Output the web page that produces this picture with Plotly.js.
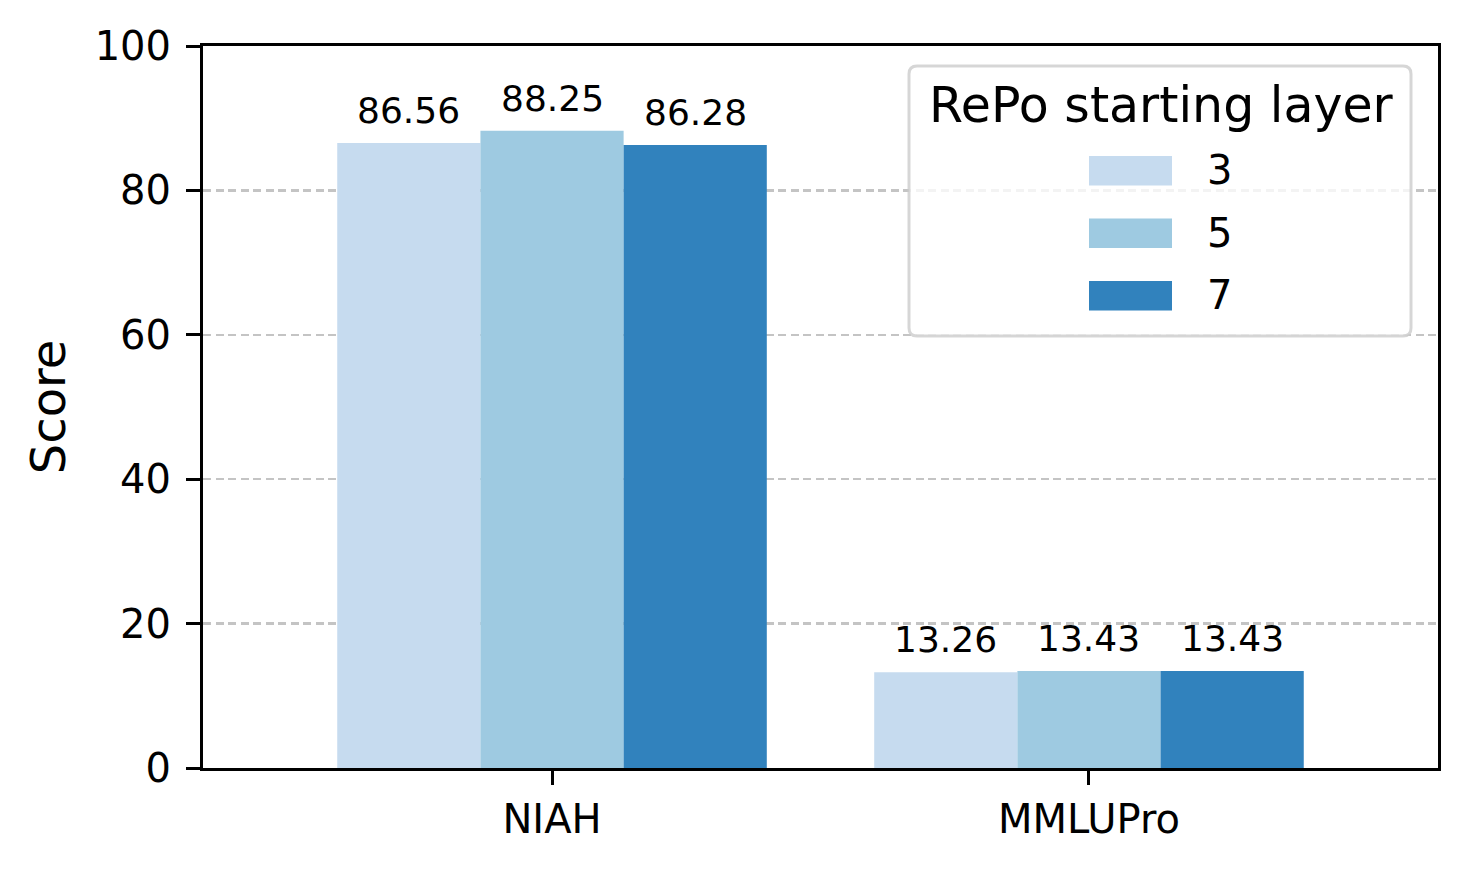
<!DOCTYPE html>
<html>
<head>
<meta charset="utf-8">
<script src="https://cdn.plot.ly/plotly-3.0.1.min.js"></script>
<style>
  html, body { margin: 0; padding: 0; background: #ffffff; }
  #chart { width: 1468px; height: 869px; }
</style>
</head>
<body>
<div id="chart"></div>
<script>
// ---- data ----
const categories = ["NIAH", "MMLUPro"];
const seriesNames = ["3", "5", "7"];
const series3 = [86.56, 13.26];
const series5 = [88.25, 13.43];
const series7 = [86.28, 13.43];
const seriesValues = [series3, series5, series7];
const seriesColors = ["#c6dbef", "#9ecae1", "#3182bd"];
const yTickVals = [0, 20, 40, 60, 80, 100];
const legendTitle = "RePo starting layer";
const yTitle = "Score";

// ---- layout geometry ----
const W = 1468, H = 869;
const M = { l: 203, r: 30, t: 46, b: 101 };
const plotW = W - M.l - M.r, plotH = H - M.t - M.b;
const px2x = p => (p - M.l) / plotW;
const px2y = p => (H - M.b - p) / plotH;

const FONT = "DejaVu Sans, Liberation Sans, sans-serif";
const nS = seriesValues.length;
const groupWidth = 0.8;
const barW = groupWidth / nS;
const catIdx = categories.map((c, i) => i);

const traces = seriesValues.map((vals, j) => ({
  type: "bar",
  name: seriesNames[j],
  x: catIdx.map(i => i - groupWidth / 2 + barW * (j + 0.5)),
  y: vals,
  width: barW,
  marker: { color: seriesColors[j], line: { width: 0 } },
  showlegend: false,
  hoverinfo: "skip"
}));

const annotations = [];
seriesValues.forEach((vals, j) => {
  vals.forEach((v, i) => {
    annotations.push({
      x: i - groupWidth / 2 + barW * (j + 0.5),
      y: v, xref: "x", yref: "y",
      text: v.toFixed(2),
      showarrow: false,
      xanchor: "center", yanchor: "bottom",
      yshift: 10,
      font: { family: FONT, size: 36, color: "#000000" }
    });
  });
});

// ---- custom legend (matplotlib style) ----
const shapes = [];
const lgL = 909, lgR = 1411, lgT = 66, lgB = 336, rad = 8;
const xL = px2x(lgL), xR = px2x(lgR), yT = px2y(lgT), yB = px2y(lgB);
const rx = rad / plotW, ry = rad / plotH;
shapes.push({
  type: "path", xref: "paper", yref: "paper",
  path: `M ${xL + rx},${yT} L ${xR - rx},${yT} Q ${xR},${yT} ${xR},${yT - ry} L ${xR},${yB + ry} Q ${xR},${yB} ${xR - rx},${yB} L ${xL + rx},${yB} Q ${xL},${yB} ${xL},${yB + ry} L ${xL},${yT - ry} Q ${xL},${yT} ${xL + rx},${yT} Z`,
  fillcolor: "rgba(255,255,255,0.8)",
  line: { color: "rgba(204,204,204,0.8)", width: 3 },
  layer: "above"
});
annotations.push({
  x: px2x(1161), y: px2y(106), xref: "paper", yref: "paper",
  text: legendTitle, showarrow: false,
  xanchor: "center", yanchor: "middle",
  font: { family: FONT, size: 49, color: "#000000" }
});
seriesNames.forEach((nm, j) => {
  const top = 156 + 62.5 * j;
  shapes.push({
    type: "rect", xref: "paper", yref: "paper",
    x0: px2x(1089), x1: px2x(1172),
    y0: px2y(top), y1: px2y(top + 29.5),
    fillcolor: seriesColors[j], line: { width: 0 }, layer: "above"
  });
  annotations.push({
    x: px2x(1205), y: px2y(top + 14), xref: "paper", yref: "paper",
    text: nm, showarrow: false,
    xanchor: "left", yanchor: "middle",
    font: { family: FONT, size: 40, color: "#000000" }
  });
});

const layout = {
  width: W, height: H,
  margin: M,
  paper_bgcolor: "#ffffff",
  plot_bgcolor: "#ffffff",
  barmode: "overlay",
  showlegend: false,
  font: { family: FONT, color: "#000000" },
  xaxis: {
    range: [-0.65, 1.65],
    tickvals: catIdx,
    ticktext: categories,
    ticks: "outside", ticklen: 14, tickwidth: 3, tickcolor: "#000000",
    tickfont: { family: FONT, size: 40, color: "#000000" },
    ticklabelstandoff: 0,
    showline: true, linecolor: "#000000", linewidth: 3, mirror: true,
    showgrid: false, zeroline: false
  },
  yaxis: {
    range: [0, 100],
    tickvals: yTickVals,
    ticktext: yTickVals.map(String),
    ticks: "outside", ticklen: 14, tickwidth: 3, tickcolor: "#000000",
    tickfont: { family: FONT, size: 40, color: "#000000" },
    ticklabelstandoff: 7,
    showline: true, linecolor: "#000000", linewidth: 3, mirror: true,
    showgrid: true, gridcolor: "#c4c4c4", gridwidth: 2.5, griddash: "8px,4.5px",
    zeroline: false,
    title: { text: yTitle, font: { family: FONT, size: 48, color: "#000000" }, standoff: 14 }
  },
  shapes: shapes,
  annotations: annotations
};

Plotly.newPlot("chart", traces, layout, { displayModeBar: false, staticPlot: true });
</script>
</body>
</html>
